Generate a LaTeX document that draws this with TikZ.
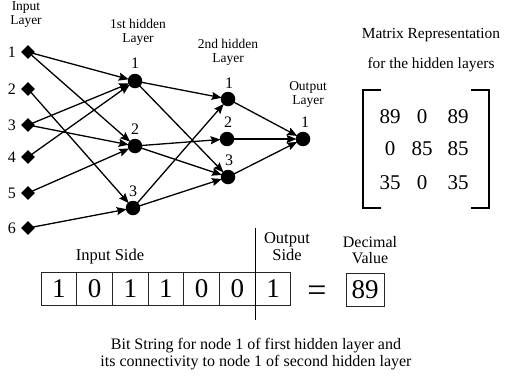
\documentclass[tikz,border=0pt]{standalone}
\usepackage{fontspec}
\setmainfont{Liberation Serif}
\usetikzlibrary{shapes.geometric,arrows.meta}
\begin{document}
\begin{tikzpicture}[x=1pt,y=-1pt,
  inp/.style={diamond,fill=black,inner sep=0pt,minimum size=14pt},
  neuron/.style={circle,fill=black,inner sep=0pt,minimum size=14.5pt},
  conn/.style={line width=1.3pt,-{Stealth[length=10pt,width=8pt,inset=1.5pt]},shorten >=-1pt},
  lbl/.style={font=\fontsize{16}{16}\selectfont,inner sep=0pt},
  title/.style={align=center,font=\fontsize{13.5}{14}\selectfont,inner sep=0pt},
  cell/.style={draw=black!85,line width=0.9pt,minimum width=35.7pt,minimum height=33pt,inner sep=0pt,outer sep=0pt,font=\fontsize{27}{27}\selectfont},
  mat/.style={font=\fontsize{21}{21}\selectfont,inner sep=0pt},
  side/.style={align=center,font=\fontsize{16.5}{17}\selectfont,inner sep=0pt}]
\useasboundingbox (0,0) rectangle (512,378);

% layer titles
\node[title] (tin) at (26,15) {Input\\Layer};
\node[title] (th1) at (138,32) {1st hidden\\Layer};
\node[title] (th2) at (228,52) {2nd hidden\\Layer};
\node[title] (tout) at (308,94) {Output\\Layer};

% input layer
\foreach \i/\y in {1/52,2/89,3/125,4/157,5/193,6/228}{
  \node[inp] (i\i) at (28,\y) {};
  \node[lbl] (li\i) at (12,\y) {\i};
}

% first hidden layer
\node[neuron] (h1) at (135,81) {};
\node[neuron] (h2) at (135,146) {};
\node[neuron] (h3) at (133,208) {};
\node[lbl] (lh1) at (135,63) {1};
\node[lbl] (lh2) at (135,129) {2};
\node[lbl] (lh3) at (133,191) {3};

% second hidden layer
\node[neuron] (g1) at (228,99) {};
\node[neuron] (g2) at (227,139) {};
\node[neuron] (g3) at (228,177) {};
\node[lbl] (lg1) at (229,83) {1};
\node[lbl] (lg2) at (228,122) {2};
\node[lbl] (lg3) at (229,160) {3};

% output layer
\node[neuron] (o1) at (303,139) {};
\node[lbl] (lo1) at (305,122) {1};

% input -> first hidden
\foreach \a/\b in {1/1,1/2,3/1,3/2,4/1,5/2,2/3,6/3}
  \draw[conn] (i\a.center) -- (h\b);
% first hidden -> second hidden
\foreach \a/\b in {1/1,1/3,2/2,2/3,3/1,3/3}
  \draw[conn] (h\a.center) -- (g\b);
% second hidden -> output
\foreach \a in {1,2,3}
  \draw[conn] (g\a.center) -- (o1);

% matrix representation
\node[align=center,font=\fontsize{15.4}{30}\selectfont,inner sep=0pt] (mtitle) at (431,50)
  {Matrix Representation\\for the hidden layers};
\draw[line width=1.6pt] (381,90) -- (363,90) -- (363,208) -- (381,208);
\draw[line width=1.6pt] (471,90) -- (489,90) -- (489,208) -- (471,208);
\foreach \r/\y/\a/\b/\c in {1/117/89/0/89,2/149/0/85/85,3/183/35/0/35}{
  \node[mat] (m\r a) at (390,\y) {\a};
  \node[mat] (m\r b) at (422,\y) {\b};
  \node[mat] (m\r c) at (458,\y) {\c};
}

% bit string
\foreach \k/\v in {1/1,2/0,3/1,4/1,5/0,6/0,7/1}
  \node[cell] (b\k) at ({41+35.7*(\k-0.5)},289) {\v};
\coordinate (dtop) at (b6.north east |- 0,228);
\coordinate (dbot) at (b6.south east |- 0,320);
\draw[line width=1pt] (dtop) -- (dbot);
\node[side] (inside) at (110,257) {Input Side};
\node[side] (outside) at (287,247) {Output\\Side};
\node[font=\fontsize{34}{34}\selectfont,inner sep=0pt] (eq) at (317,294) {=};
\node[draw=black!85,line width=0.9pt,minimum width=38pt,minimum height=33pt,inner sep=0pt,font=\fontsize{27}{27}\selectfont] (dec) at (365,290) {89};
\node[side,font=\fontsize{16}{16.5}\selectfont] (dlabel) at (370,250) {Decimal\\Value};

% caption
\node[align=center,font=\fontsize{16}{17}\selectfont,inner sep=0pt] (cap) at (256,354)
  {Bit String for node 1 of first hidden layer and\\its connectivity to node 1 of second hidden layer};
\end{tikzpicture}
\end{document}
